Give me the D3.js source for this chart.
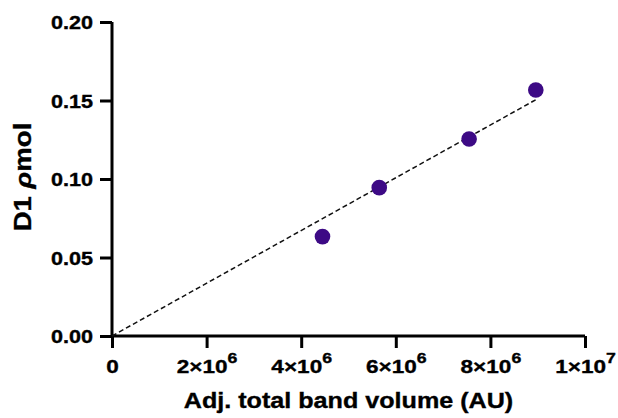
<!DOCTYPE html>
<html><head><meta charset="utf-8">
<script src="https://cdn.jsdelivr.net/npm/d3@7"></script>
<style>
body{margin:0;background:#fff;}
text{font-family:"Liberation Sans",Arial,sans-serif;font-weight:bold;stroke:#000;stroke-width:0.35px;}
</style></head>
<body><svg id="c" width="618" height="418"></svg>
<script>
const xValues = [4.45e6, 5.65e6, 7.55e6, 8.96e6];
const yValues = [0.0633, 0.0945, 0.1255, 0.1567];
const fitX = [0, 8.96e6];
const fitY = [0, 0.1505];
const yTicks = [0, 0.05, 0.10, 0.15, 0.20];
const xTicks = [0, 2e6, 4e6, 6e6, 8e6, 1e7];
const xTickMant = ["0", "2", "4", "6", "8", "1"];
const xTickExp = ["", "6", "6", "6", "6", "7"];

const svg = d3.select("#c");
const x = d3.scaleLinear().domain([0, 1e7]).range([112, 585]);
const y = d3.scaleLinear().domain([0, 0.2]).range([336, 22]);
const K = 1.22; // horizontal widening of the bold face

const ya = svg.append("g").attr("transform","translate(112,0)")
  .call(d3.axisLeft(y).tickValues(yTicks).tickSize(12).tickFormat(d3.format(".2f")));
const xa = svg.append("g").attr("transform","translate(0,336)")
  .call(d3.axisBottom(x).tickValues(xTicks).tickSize(12).tickFormat(""));
[ya, xa].forEach(g => {
  g.select(".domain").attr("stroke","#000").attr("stroke-width",3);
  g.selectAll(".tick line").attr("stroke","#000").attr("stroke-width",3);
});
ya.select(".domain").attr("d","M0,"+y(0.2)+"V"+y(0));
xa.select(".domain").attr("d","M"+x(0)+",0H"+x(1e7));

ya.selectAll(".tick text")
  .attr("x",0).attr("dy",null).attr("y",6.5)
  .attr("transform","translate(-19,0) scale("+K+",1)")
  .attr("text-anchor","end").attr("font-size",17.7).attr("fill","#000")
  .style("font-family","'Liberation Sans',Arial,sans-serif").style("font-weight","bold");

xa.selectAll(".tick").each(function(d,i){
  const t = d3.select(this).append("text")
    .attr("transform","translate(0,37) scale("+K+",1)")
    .attr("text-anchor","middle").attr("font-size",18.5).attr("fill","#000");
  if (xTickExp[i]) {
    t.append("tspan").text(xTickMant[i] + "×10");
    t.append("tspan").attr("dy",-10).attr("font-size",14.5).text(xTickExp[i]);
  } else {
    t.text(xTickMant[i]);
  }
});

// Fit line
svg.append("path").datum(fitX.map((v,i)=>[v,fitY[i]]))
  .attr("d", d3.line().x(d=>x(d[0])).y(d=>y(d[1])))
  .attr("fill","none").attr("stroke","#111").attr("stroke-width",1.5).attr("stroke-dasharray","5,3");

// Points
svg.selectAll("circle.pt").data(xValues.map((v,i)=>[v,yValues[i]])).enter()
  .append("circle").attr("class","pt")
  .attr("cx",d=>x(d[0])).attr("cy",d=>y(d[1])).attr("r",7.8).attr("fill","#3d0a85");

// Axis titles
svg.append("text")
  .attr("transform","translate("+((x(0)+x(1e7))/2)+",408) scale(1.17,1)")
  .attr("text-anchor","middle").attr("font-size",21.5).text("Adj. total band volume (AU)");
const yt = svg.append("text")
  .attr("transform","translate(31,177) rotate(-90) scale(1.2,1)")
  .attr("text-anchor","middle").attr("font-size",23);
yt.append("tspan").text("D1 ");
yt.append("tspan").attr("font-style","italic").text("ρ");
yt.append("tspan").text("mol");
</script></body></html>
